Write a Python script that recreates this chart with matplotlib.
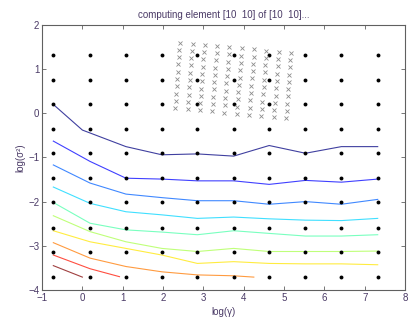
import numpy as np
import matplotlib
matplotlib.use('Agg')
import matplotlib.pyplot as plt

# coarse grid of (log gamma, log sigma^2) points
grid_x = [-0.72, 0.19, 1.08, 1.97, 2.85, 3.75, 4.63, 5.53, 6.42, 7.32]
grid_y = [-3.70, -3.15, -2.60, -2.02, -1.47, -0.905, -0.355, 0.20, 0.755, 1.32]

# refined grid (crosses): top of each column + offset of each row
cross_col_x = [2.42, 2.73, 3.03, 3.34, 3.64, 3.95, 4.26, 4.56, 4.87, 5.17]
cross_col_y = [1.60, 1.58, 1.55, 1.53, 1.50, 1.47, 1.45, 1.42, 1.39, 1.37]
cross_row_dx = [0, -0.014, -0.028, -0.041, -0.055, -0.069, -0.083, -0.097, -0.110, -0.124]
cross_row_dy = [0, -0.165, -0.33, -0.495, -0.66, -0.825, -0.99, -1.155, -1.32, -1.485]

# contour lines, top (blue) to bottom (dark red)
contours = [
    ([-0.72, 0.0, 1.08, 1.97, 2.85, 3.75, 4.63, 5.53, 6.42, 7.32],
     [0.20, -0.38, -0.755, -0.94, -0.92, -0.97, -0.73, -0.905, -0.755, -0.755]),
    ([-0.72, 0.19, 1.08, 1.97, 2.85, 3.75, 4.63, 5.53, 6.42, 7.32],
     [-0.63, -1.09, -1.47, -1.49, -1.53, -1.53, -1.61, -1.52, -1.56, -1.49]),
    ([-0.72, 0.19, 1.08, 1.97, 2.85, 3.75, 4.63, 5.53, 6.42, 7.32],
     [-1.17, -1.58, -1.83, -1.91, -1.98, -1.98, -2.06, -2.00, -2.06, -1.95]),
    ([-0.72, 0.19, 1.08, 1.97, 2.85, 3.75, 4.63, 5.53, 6.42, 7.32],
     [-1.67, -2.04, -2.23, -2.30, -2.38, -2.35, -2.39, -2.42, -2.43, -2.38]),
    ([-0.72, 0.19, 1.08, 1.97, 2.85, 3.75, 4.63, 5.53, 6.42, 7.32],
     [-2.02, -2.49, -2.64, -2.69, -2.75, -2.66, -2.72, -2.78, -2.78, -2.75]),
    ([-0.72, 0.19, 1.08, 1.97, 2.85, 3.75, 4.63, 5.53, 6.42, 7.32],
     [-2.32, -2.68, -2.91, -3.06, -3.13, -3.06, -3.13, -3.13, -3.13, -3.12]),
    ([-0.72, 0.19, 1.08, 1.97, 2.85, 3.75, 4.63, 5.53, 6.42, 7.32],
     [-2.66, -2.91, -3.06, -3.21, -3.40, -3.36, -3.40, -3.41, -3.41, -3.43]),
    ([-0.72, 0.19, 1.08, 1.97, 2.85, 3.75, 4.25],
     [-2.93, -3.28, -3.47, -3.59, -3.66, -3.68, -3.71]),
    ([-0.72, 0.19, 0.92],
     [-3.21, -3.52, -3.70]),
    ([-0.72, 0.0],
     [-3.45, -3.71]),
]

txt = '#4a3a66'
plt.rcParams['font.family'] = ['Liberation Sans', 'DejaVu Sans']
plt.rcParams['font.size'] = 7

fig = plt.figure(figsize=(4.08, 3.2), dpi=100)
ax = fig.add_axes([0.103, 0.094, 0.890, 0.828])

colors = plt.cm.jet(np.linspace(0, 1, len(contours)))
for (cx, cy), c in zip(contours, colors):
    ax.plot(cx, cy, color=c, lw=0.8, alpha=0.75)

gx, gy = np.meshgrid(grid_x, grid_y)
ax.plot(gx.ravel(), gy.ravel(), 'o', color='black', ms=2.8, mew=0)

xs = np.add.outer(cross_row_dx, cross_col_x)
ys = np.add.outer(cross_row_dy, cross_col_y)
ax.plot(xs.ravel(), ys.ravel(), 'x', color='#8c8c8c', ms=2.8, mew=0.6)

ax.set_xlim(-1, 8)
ax.set_ylim(-4, 2)
ax.set_xticks(range(-1, 9))
ax.set_yticks(range(-4, 3))
ax.tick_params(direction='in', length=3, width=0.6, top=True, right=True,
               colors='#606060', labelcolor=txt, pad=2)
for s in ax.spines.values():
    s.set_color('#606060')
    s.set_linewidth(0.8)

ax.set_title('computing element [10  10] of [10  10]...', color=txt, fontsize=7, pad=5)
ax.set_xlabel('log(γ)', color=txt, labelpad=3)
ax.set_ylabel('log(σ²)', color=txt, labelpad=2)

fig.savefig('out.png', dpi=100, facecolor='white')
